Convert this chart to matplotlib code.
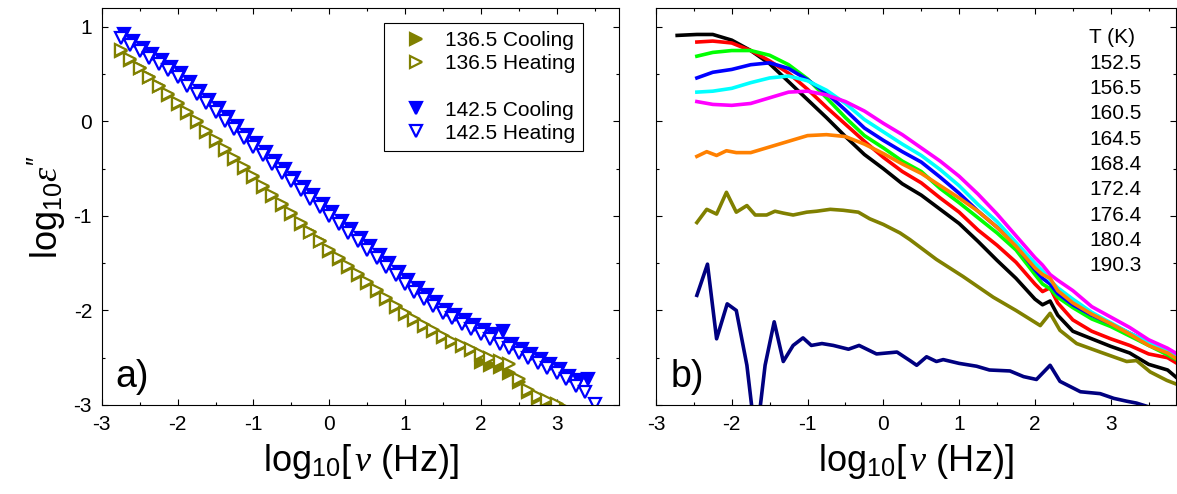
import matplotlib
matplotlib.use("Agg")
import matplotlib.pyplot as plt
from matplotlib.lines import Line2D
from matplotlib.ticker import MultipleLocator

plt.rcParams.update({
    "font.family": ["Liberation Sans", "DejaVu Sans"],
    "mathtext.fontset": "custom",
    "mathtext.rm": "Liberation Sans",
    "mathtext.it": "Liberation Serif:italic",
    "axes.unicode_minus": False,
})

# ---- panel a: log10 eps'' vs log10 nu, cooling / heating ----
logf_136 = [-2.75, -2.625, -2.5, -2.375, -2.25, -2.125, -2.0, -1.875, -1.75, -1.625,
            -1.5, -1.375, -1.25, -1.125, -1.0, -0.875, -0.75, -0.625, -0.5, -0.375,
            -0.25, -0.125, 0.0, 0.125, 0.25, 0.375, 0.5, 0.625, 0.75, 0.875,
            1.0, 1.125, 1.25, 1.375, 1.5, 1.625, 1.75, 1.875, 2.0, 2.125,
            2.25, 2.375, 2.5, 2.625, 2.75, 2.875, 3.0, 3.125]
eps_136_heat = [0.76, 0.665, 0.57, 0.475, 0.38, 0.285, 0.19, 0.095, 0.0, -0.10,
                -0.195, -0.29, -0.39, -0.485, -0.58, -0.68, -0.775, -0.87, -0.97, -1.07,
                -1.165, -1.26, -1.36, -1.45, -1.53, -1.615, -1.70, -1.78, -1.87, -1.95,
                -2.03, -2.09, -2.15, -2.21, -2.27, -2.32, -2.365, -2.41, -2.46, -2.50,
                -2.53, -2.57, -2.72, -2.84, -2.90, -2.95, -2.99, -3.04]
eps_136_cool = [0.75, 0.655, 0.56, 0.465, 0.37, 0.275, 0.18, 0.085, -0.01, -0.11,
                -0.205, -0.30, -0.40, -0.495, -0.59, -0.69, -0.785, -0.88, -0.98, -1.08,
                -1.175, -1.27, -1.37, -1.46, -1.54, -1.625, -1.71, -1.79, -1.88, -1.96,
                -2.04, -2.10, -2.16, -2.22, -2.28, -2.33, -2.375, -2.42, -2.55, -2.58,
                -2.60, -2.66, -2.76, -2.86, -2.93, -2.97, -3.01, -3.05]

logf_142 = [-2.75, -2.625, -2.5, -2.375, -2.25, -2.125, -2.0, -1.875, -1.75, -1.625,
            -1.5, -1.375, -1.25, -1.125, -1.0, -0.875, -0.75, -0.625, -0.5, -0.375,
            -0.25, -0.125, 0.0, 0.125, 0.25, 0.375, 0.5, 0.625, 0.75, 0.875,
            1.0, 1.125, 1.25, 1.375, 1.5, 1.625, 1.75, 1.875, 2.0, 2.125,
            2.25, 2.375, 2.5, 2.625, 2.75, 2.875, 3.0, 3.125, 3.25, 3.375, 3.5]
eps_142_heat = [0.88, 0.81, 0.74, 0.675, 0.61, 0.54, 0.47, 0.38, 0.285, 0.19,
                0.10, 0.005, -0.085, -0.18, -0.27, -0.36, -0.455, -0.545, -0.635, -0.73,
                -0.82, -0.91, -1.0, -1.09, -1.18, -1.27, -1.36, -1.45, -1.54, -1.63,
                -1.72, -1.80, -1.875, -1.95, -2.03, -2.085, -2.14, -2.195, -2.25, -2.30,
                -2.35, -2.40, -2.45, -2.50, -2.555, -2.61, -2.66, -2.73, -2.80, -2.86, -2.99]
logf_142_cool = [-2.71, -2.585, -2.46, -2.335, -2.21, -2.085, -1.96, -1.835, -1.71, -1.585,
                 -1.46, -1.335, -1.21, -1.085, -0.96, -0.835, -0.71, -0.585, -0.46, -0.335,
                 -0.21, -0.085, 0.04, 0.165, 0.29, 0.415, 0.54, 0.665, 0.79, 0.915,
                 1.04, 1.165, 1.29, 1.415, 1.54, 1.665, 1.79, 1.915, 2.04, 2.165,
                 2.29, 2.415, 2.54, 2.665, 2.79, 2.915, 3.04, 3.165, 3.29, 3.415]
eps_142_cool = [0.92, 0.85, 0.78, 0.715, 0.65, 0.58, 0.51, 0.42, 0.325, 0.23,
                0.14, 0.045, -0.045, -0.14, -0.23, -0.32, -0.415, -0.505, -0.595, -0.69,
                -0.78, -0.87, -0.96, -1.05, -1.14, -1.23, -1.32, -1.41, -1.50, -1.59,
                -1.68, -1.76, -1.835, -1.91, -1.99, -2.045, -2.10, -2.155, -2.21, -2.25,
                -2.22, -2.36, -2.41, -2.46, -2.515, -2.57, -2.62, -2.69, -2.74, -2.73]

# ---- panel b: spectra at several temperatures ----
temps_K = ["152.5", "156.5", "160.5", "164.5", "168.4", "172.4", "176.4", "180.4", "190.3"]

logf_b = [-2.46, -2.25, -2.0, -1.75, -1.5, -1.25, -1.0, -0.75, -0.5, -0.25,
          0.0, 0.25, 0.5, 0.75, 1.0, 1.25, 1.5, 1.75, 2.0, 2.1,
          2.2, 2.3, 2.5, 2.75, 3.0, 3.25, 3.5, 3.75, 4.0]
logf_b_152 = [-2.72] + logf_b
eps_152 = [0.91, 0.92, 0.92, 0.86, 0.75, 0.61, 0.42, 0.23, 0.04, -0.16, -0.35,
           -0.50, -0.66, -0.78, -0.93, -1.08, -1.27, -1.47, -1.66, -1.88, -1.94,
           -1.90, -2.05, -2.22, -2.30, -2.38, -2.45, -2.57, -2.63, -2.80]
eps_156 = [0.84, 0.85, 0.83, 0.75, 0.64, 0.51, 0.34, 0.15, -0.03, -0.21,
           -0.38, -0.53, -0.65, -0.81, -0.96, -1.15, -1.31, -1.49, -1.72, -1.80,
           -1.76, -1.92, -2.10, -2.22, -2.30, -2.37, -2.46, -2.50, -2.62]
eps_160 = [0.69, 0.73, 0.75, 0.75, 0.70, 0.60, 0.45, 0.25, 0.04, -0.15,
           -0.28, -0.42, -0.53, -0.71, -0.86, -1.02, -1.18, -1.36, -1.62, -1.72,
           -1.77, -1.86, -1.97, -2.09, -2.17, -2.27, -2.37, -2.47, -2.58]
eps_164 = [0.46, 0.52, 0.55, 0.60, 0.62, 0.56, 0.44, 0.30, 0.12, -0.07,
           -0.20, -0.32, -0.43, -0.59, -0.76, -0.95, -1.12, -1.31, -1.57, -1.66,
           -1.72, -1.82, -1.94, -2.05, -2.14, -2.24, -2.34, -2.43, -2.53]
eps_168 = [0.31, 0.32, 0.35, 0.41, 0.46, 0.48, 0.43, 0.33, 0.19, 0.02,
           -0.11, -0.24, -0.36, -0.51, -0.68, -0.88, -1.06, -1.28, -1.50, -1.58,
           -1.68, -1.76, -1.88, -2.02, -2.13, -2.24, -2.34, -2.42, -2.53]
eps_172 = [0.21, 0.18, 0.17, 0.19, 0.25, 0.31, 0.32, 0.28, 0.21, 0.11,
           -0.02, -0.14, -0.28, -0.42, -0.58, -0.77, -0.98, -1.21, -1.44, -1.52,
           -1.62, -1.68, -1.79, -1.96, -2.07, -2.18, -2.31, -2.40, -2.52]

logf_b_176 = [-2.46, -2.33, -2.2, -2.07, -1.94, -1.75, -1.5, -1.25, -1.0, -0.75,
              -0.5, -0.25, 0.0, 0.25, 0.5, 0.75, 1.0, 1.25, 1.5, 1.75,
              2.0, 2.1, 2.2, 2.3, 2.5, 2.75, 3.0, 3.25, 3.5, 3.75, 4.0]
eps_176 = [-0.37, -0.32, -0.36, -0.31, -0.33, -0.33, -0.27, -0.21, -0.15, -0.14,
           -0.16, -0.24, -0.34, -0.45, -0.55, -0.68, -0.81, -0.95, -1.12, -1.32,
           -1.55, -1.62, -1.66, -1.79, -1.92, -2.04, -2.14, -2.25, -2.37, -2.45, -2.58]

logf_b_180 = [-2.46, -2.33, -2.2, -2.07, -1.94, -1.80, -1.69, -1.54, -1.43, -1.32,
              -1.19, -1.01, -0.88, -0.70, -0.53, -0.33, -0.18, 0.0, 0.22, 0.35,
              0.70, 1.05, 1.45, 1.75, 2.07, 2.2, 2.33, 2.55, 2.86, 3.21,
              3.34, 3.52, 3.74, 3.9]
eps_180 = [-1.07, -0.93, -0.98, -0.75, -0.96, -0.89, -0.99, -0.99, -0.95, -0.97,
           -0.99, -0.96, -0.95, -0.93, -0.94, -0.96, -1.03, -1.09, -1.18, -1.25,
           -1.46, -1.64, -1.86, -2.0, -2.16, -2.03, -2.21, -2.35, -2.44, -2.54,
           -2.53, -2.65, -2.74, -2.79]

logf_b_190 = [-2.46, -2.32, -2.2, -2.06, -1.94, -1.8, -1.68, -1.56, -1.44, -1.32,
              -1.19, -1.06, -0.95, -0.81, -0.66, -0.46, -0.32, -0.09, 0.18, 0.35,
              0.44, 0.57, 0.70, 0.79, 1.0, 1.23, 1.40, 1.67, 1.85, 2.02,
              2.20, 2.33, 2.60, 2.86, 3.04, 3.21, 3.34, 3.5]
eps_190 = [-1.84, -1.51, -2.30, -1.93, -2.0, -2.58, -3.4, -2.58, -2.12, -2.54,
           -2.37, -2.29, -2.37, -2.35, -2.37, -2.41, -2.37, -2.46, -2.44, -2.53,
           -2.58, -2.49, -2.54, -2.52, -2.56, -2.59, -2.63, -2.64, -2.70, -2.73,
           -2.58, -2.75, -2.86, -2.88, -2.93, -2.96, -2.98, -3.02]

OLIVE = "#808000"
BLUE = "#0000ff"


def style_axis(ax, xmax):
    ax.set_xlim(-3, xmax)
    ax.set_ylim(-3, 1.2)
    ax.xaxis.set_major_locator(MultipleLocator(1))
    ax.xaxis.set_minor_locator(MultipleLocator(0.5))
    ax.yaxis.set_major_locator(MultipleLocator(1))
    ax.yaxis.set_minor_locator(MultipleLocator(0.5))
    ax.tick_params(which="both", direction="in", top=True, right=True, width=0.8)
    ax.tick_params(which="major", length=4.5, labelsize=15, pad=7)
    ax.tick_params(which="minor", length=2.5)
    for sp in ax.spines.values():
        sp.set_linewidth(0.8)
    ax.set_xlabel(r"log$_{10}$[$\,\nu$ (Hz)]", fontsize=26, labelpad=6)


fig = plt.figure(figsize=(11.77, 4.94), dpi=100)
ax_a = fig.add_axes([0.0865, 0.1802, 0.4394, 0.8036])
ax_b = fig.add_axes([0.5573, 0.1802, 0.4418, 0.8036])

# panel a -- filled (cooling) first, open (heating) with white face on top
mk = dict(linestyle="none", markersize=9, markeredgewidth=1.6)
h136c, = ax_a.plot(logf_136, eps_136_cool, marker=">", color=OLIVE, label="136.5 Cooling", **mk)
h142c, = ax_a.plot(logf_142_cool, eps_142_cool, marker="v", color=BLUE,
                   label="142.5 Cooling", **mk)
h136h, = ax_a.plot(logf_136, eps_136_heat, marker=">", color=OLIVE, markerfacecolor="white",
                   label="136.5 Heating", **mk)
h142h, = ax_a.plot(logf_142, eps_142_heat, marker="v", color=BLUE, markerfacecolor="white",
                   label="142.5 Heating", **mk)

blank = Line2D([], [], linestyle="none", marker="none")
leg = ax_a.legend([h136c, h136h, blank, h142c, h142h],
                  ["136.5 Cooling", "136.5 Heating", " ", "142.5 Cooling", "142.5 Heating"],
                  loc="upper right", bbox_to_anchor=(0.931, 0.963), borderaxespad=0,
                  fontsize=15, handlelength=2.2, handletextpad=0.3, labelspacing=0.2,
                  borderpad=0.4, fancybox=False, framealpha=1)
leg.get_frame().set_edgecolor("black")
leg.get_frame().set_linewidth(0.8)

style_axis(ax_a, 3.823)
ax_a.set_ylabel(r"log$_{10}\varepsilon^{\prime\prime}$", fontsize=26, labelpad=4)
ax_a.text(0.026, 0.045, "a)", transform=ax_a.transAxes, fontsize=27, va="baseline")

# panel b
lw = 2.6
ax_b.plot(logf_b_152, eps_152, color="black", lw=lw)
ax_b.plot(logf_b, eps_156, color="#ff0000", lw=lw)
ax_b.plot(logf_b, eps_160, color="#00ff00", lw=lw)
ax_b.plot(logf_b, eps_164, color="#0000ff", lw=lw)
ax_b.plot(logf_b, eps_168, color="#00ffff", lw=lw)
ax_b.plot(logf_b, eps_172, color="#ff00ff", lw=lw)
ax_b.plot(logf_b_176, eps_176, color="#ff8000", lw=lw)
ax_b.plot(logf_b_180, eps_180, color=OLIVE, lw=lw)
ax_b.plot(logf_b_190, eps_190, color="#000080", lw=lw)

style_axis(ax_b, 3.86)
ax_b.tick_params(labelleft=False)
ax_b.text(0.028, 0.045, "b)", transform=ax_b.transAxes, fontsize=27, va="baseline")

# temperature list (plain black text, top right)
ax_b.text(0.833, 0.925, "T (K)", transform=ax_b.transAxes, fontsize=15, va="center")
for i, t in enumerate(temps_K):
    ax_b.text(0.833, 0.861 - i * 0.0638, t, transform=ax_b.transAxes, fontsize=15, va="center")

fig.savefig("out.png", dpi=100)
